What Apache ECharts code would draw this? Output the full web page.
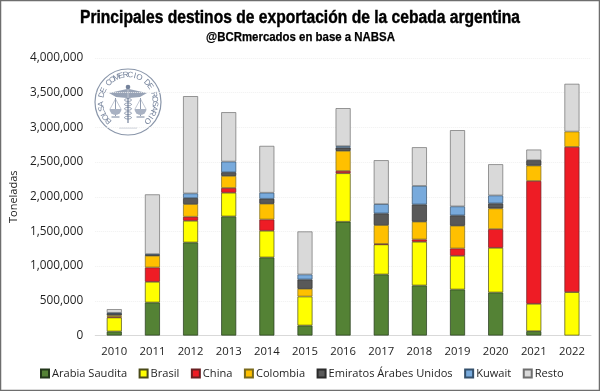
<!DOCTYPE html>
<html><head><meta charset="utf-8">
<style>html,body{margin:0;padding:0;background:#fff}#c{width:600px;height:391px}</style>
<script src="https://cdn.jsdelivr.net/npm/echarts@6/dist/echarts.min.js"></script>
</head><body><div id="c"></div>
<script>
const years = ['2010','2011','2012','2013','2014','2015','2016','2017','2018','2019','2020','2021','2022'];
const arabiaSaudita = [58000,476000,1341000,1716000,1125000,144000,1640000,880000,721000,663000,620000,62000,null];
const brasil = [202000,298000,313000,342000,385000,418000,699000,433000,630000,486000,644000,395000,625000];
const china = [10000,207000,58000,69000,163000,null,33000,7000,34000,106000,270000,1771000,2094000];
const colombia = [20000,168000,182000,173000,226000,111000,289000,271000,255000,327000,298000,221000,221000];
const emiratos = [32000,19000,87000,53000,72000,135000,48000,169000,249000,149000,72000,78000,null];
const kuwait = [5000,5000,67000,154000,87000,72000,20000,134000,267000,130000,115000,null,null];
const resto = [53000,861000,1402000,712000,675000,620000,548000,633000,558000,1099000,450000,153000,688000];

const seriesDefs = [
  ['Arabia Saudita', arabiaSaudita, '#548235', '#22361a'],
  ['Brasil', brasil, '#ffff00', '#4a4a18'],
  ['China', china, '#ee1c25', '#6a2022'],
  ['Colombia', colombia, '#ffc000', '#7a6a1c'],
  ['Emiratos Árabes Unidos', emiratos, '#595959', '#2a2a2a'],
  ['Kuwait', kuwait, '#78aadc', '#34506c'],
  ['Resto', resto, '#d9d9d9', '#6f6f6f']
];

const chart = echarts.init(document.getElementById('c'), null, {renderer:'canvas'});
const font = 'Open Sans';
const titleText = 'Principales destinos de exportación de la cebada argentina';
const subtitleText = '@BCRmercados en base a NABSA';
const titleFont = 'bold 17.5px "Liberation Sans"';
const subFont = 'bold 12.5px "Liberation Sans"';
const ctx = document.createElement('canvas').getContext('2d');
const fitScale = (t,f,w)=>{ctx.font=f;return w/ctx.measureText(t).width;};

const logoColor = '#74829b';
const logoCx = 128, logoCy = 102, logoR = 27;
const logoText = 'BOLSA DE COMERCIO DE ROSARIO';
const logo = [];
logo.push({type:'circle',shape:{cx:logoCx,cy:logoCy,r:33},style:{fill:'none',stroke:'#8a96aa',lineWidth:1.2},silent:true});
const startDeg = -134, endDeg = 134;
[...logoText].forEach((ch,i)=>{
  const deg = startDeg + (endDeg-startDeg)*i/(logoText.length-1);
  const a = deg*Math.PI/180;
  logo.push({type:'text',x:logoCx+logoR*Math.sin(a),y:logoCy-logoR*Math.cos(a),rotation:-a,
    style:{text:ch,font:'8px "Liberation Sans"',fill:logoColor,align:'center',verticalAlign:'middle'},silent:true});
});
logo.push({type:'line',shape:{x1:logoCx,y1:85,x2:logoCx,y2:123},style:{stroke:logoColor,lineWidth:1.2},silent:true});
logo.push({type:'circle',shape:{cx:logoCx,cy:87,r:2.3},style:{fill:logoColor},silent:true});
logo.push({type:'polygon',shape:{points:[[logoCx-1,89],[logoCx-19,93],[logoCx-12,97],[logoCx-1,98]]},style:{fill:'#98a3b6'},silent:true});
logo.push({type:'polygon',shape:{points:[[logoCx+1,89],[logoCx+19,93],[logoCx+12,97],[logoCx+1,98]]},style:{fill:'#98a3b6'},silent:true});
[-1,1].forEach(s=>{
  const x=logoCx+s*12.5;
  logo.push({type:'line',shape:{x1:x,y1:98,x2:x,y2:116},style:{stroke:logoColor,lineWidth:0.8},silent:true});
  logo.push({type:'polyline',shape:{points:[[x-5.5,109],[x,99],[x+5.5,109]]},style:{stroke:'#98a3b6',fill:'none',lineWidth:0.6},silent:true});
  logo.push({type:'sector',shape:{cx:x,cy:109,r0:0,r:6,startAngle:0,endAngle:Math.PI},style:{fill:'#a9b2c3'},silent:true});
  logo.push({type:'line',shape:{x1:x-4,y1:117,x2:x+4,y2:117},style:{stroke:logoColor,lineWidth:1},silent:true});
});
for(let i=0;i<5;i++){
  logo.push({type:'ellipse',shape:{cx:logoCx,cy:100+i*4.4,rx:3.5,ry:1.4},style:{fill:'none',stroke:logoColor,lineWidth:0.8},silent:true});
}
logo.push({type:'line',shape:{x1:logoCx-9,y1:128,x2:logoCx+9,y2:128},style:{stroke:'#b5bbc8',lineWidth:0.8},silent:true});

chart.setOption({
  animation:false,
  backgroundColor:'#ffffff',
  grid:{left:94,right:9,top:58,bottom:55.5},
  legend:{bottom:7,left:35,itemWidth:8,itemHeight:8,itemGap:11.5,icon:'rect',
    textStyle:{fontFamily:font,fontSize:11.1,color:'#1f1f1f',padding:[0,0,0,-2]}},
  xAxis:{type:'category',data:years,
    axisLine:{lineStyle:{color:'#d9d9d9'}},axisTick:{show:false},
    axisLabel:{fontFamily:font,fontSize:11.3,color:'#1f1f1f',margin:11}},
  yAxis:{type:'value',min:0,max:4000000,interval:500000,
    name:'Toneladas',nameLocation:'middle',nameGap:64,
    nameTextStyle:{fontFamily:font,fontSize:11,color:'#1f1f1f'},
    axisLine:{show:false},axisTick:{show:false},
    splitLine:{lineStyle:{color:'#f0f0f0',type:'dotted'}},
    axisLabel:{fontFamily:font,fontSize:11.8,color:'#1f1f1f',margin:12,
      formatter:v=>v.toLocaleString('en-US')}},
  series:seriesDefs.map(([name,data,color,border])=>({
    name,type:'bar',stack:'t',data,barWidth:15,
    itemStyle:{color,borderColor:border,borderWidth:0.7}
  })),
  graphic:[
    {type:'text',x:300,y:18.5,scaleX:fitScale(titleText,titleFont,440),originX:0,originY:0,
     style:{text:titleText,font:titleFont,fill:'#000',stroke:'#000',lineWidth:0.4,align:'center',verticalAlign:'middle'},silent:true},
    {type:'text',x:300.5,y:37.5,scaleX:fitScale(subtitleText,subFont,189),originX:0,originY:0,
     style:{text:subtitleText,font:subFont,fill:'#000',stroke:'#000',lineWidth:0.25,align:'center',verticalAlign:'middle'},silent:true},
    {type:'rect',shape:{x:0.5,y:0.5,width:599,height:390},style:{fill:'none',stroke:'#6e6e6e',lineWidth:1.5},silent:true,z:100},
    {type:'group',silent:true,z:1,children:logo}
  ]
});
</script></body></html>
